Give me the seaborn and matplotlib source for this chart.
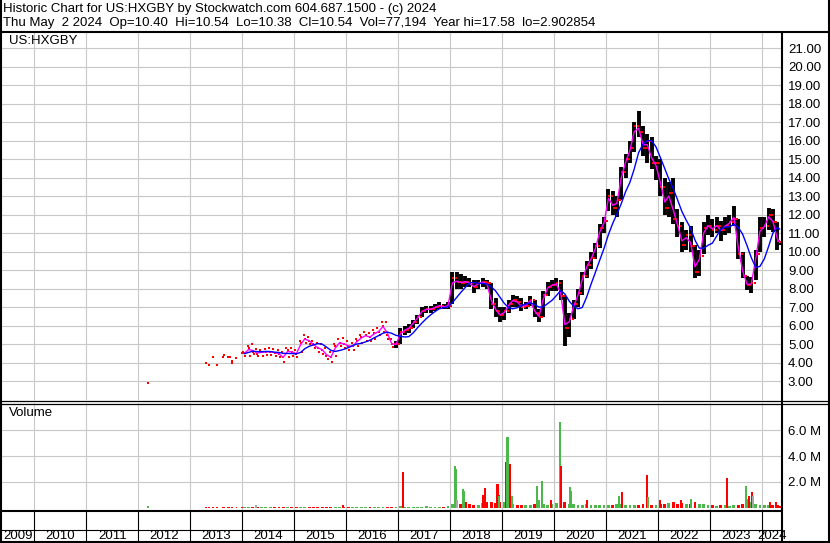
import matplotlib
matplotlib.use("Agg")
import matplotlib.pyplot as plt
from matplotlib.lines import Line2D
import numpy as np
import pandas as pd
import seaborn as sns

W, H = 830, 543

# ---- values ----
# sparse early trades (2012-2013)
dot_dates = ['2012-03-10', '2013-04-20', '2013-05-12', '2013-06-10', '2013-07-05', '2013-08-18',
             '2013-08-25', '2013-09-20', '2013-10-03', '2013-10-18', '2013-10-22', '2013-11-20',
             '2013-12-28']
dot_prices = [2.92, 4.02, 3.91, 4.34, 3.91, 4.35, 4.43, 4.30, 4.34, 4.10, 4.02, 4.29, 4.56]
dot_vols = [0.10, 0.04, 0.04, 0.04, 0.04, 0.04, 0.04, 0.04, 0.04, 0.04, 0.04, 0.04, 0.04]

# monthly high / low / close, 2014-01 .. 2024-05
month_hi = [4.6, 4.9, 5.0, 4.75, 4.7, 4.75, 4.8, 4.75, 4.7, 4.6, 4.8, 4.8,
            4.7, 5.2, 5.5, 5.4, 5.2, 5.1, 5.0, 4.8, 4.6, 5.0, 5.3, 5.35,
            5.2, 5.1, 5.3, 5.5, 5.7, 5.6, 5.8, 5.9, 6.2, 6.2, 5.3, 5.2,
            5.9, 6.0, 6.1, 6.3, 6.6, 7.0, 7.1, 7.1, 7.2, 7.3, 7.2, 7.3,
            8.9, 8.9, 8.8, 8.7, 8.6, 8.5, 8.5, 8.6, 8.5, 8.3, 7.5, 7.0,
            7.0, 7.4, 7.7, 7.6, 7.5, 7.3, 7.6, 7.4, 6.9, 7.9, 8.4, 8.5,
            8.6, 8.5, 7.6, 6.7, 7.4, 8.0, 8.9, 9.5, 10.0, 10.5, 11.5, 11.9,
            13.4, 13.3, 13.0, 14.6, 15.3, 16.0, 17.0, 17.6, 16.8, 16.4, 16.2, 15.2,
            15.0, 14.0, 13.8, 14.0, 12.3, 11.6, 11.2, 11.4, 10.4, 10.1, 11.6, 12.0,
            11.8, 11.9, 11.7, 11.9, 12.0, 12.5, 11.8, 10.0, 8.7, 8.65, 10.1, 11.9,
            11.9, 12.4, 12.3, 11.6, 10.54]
month_lo = [4.4, 4.4, 4.5, 4.4, 4.4, 4.45, 4.45, 4.4, 4.3, 4.05, 4.3, 4.4,
            4.3, 4.6, 5.1, 5.0, 4.8, 4.6, 4.5, 4.2, 4.05, 4.4, 4.9, 4.8,
            4.7, 4.7, 4.9, 5.1, 5.2, 5.2, 5.3, 5.5, 5.7, 5.3, 4.85, 4.8,
            5.0, 5.5, 5.6, 5.9, 6.1, 6.5, 6.7, 6.7, 6.8, 6.9, 6.9, 6.9,
            7.2, 8.0, 8.0, 8.1, 8.1, 7.8, 8.0, 8.1, 8.0, 6.9, 6.5, 6.2,
            6.3, 6.7, 7.0, 7.0, 6.8, 6.9, 7.1, 6.5, 6.2, 6.5, 7.6, 7.9,
            7.9, 7.4, 4.9, 5.4, 6.4, 7.0, 7.7, 8.6, 9.1, 9.6, 10.2, 11.0,
            12.2, 12.0, 11.9, 12.8, 14.0, 14.8, 15.4, 16.2, 15.2, 14.8, 14.5, 13.9,
            13.0, 12.0, 11.9, 11.5, 10.8, 10.0, 10.1, 10.0, 8.6, 8.7, 9.9, 10.9,
            10.8, 11.0, 10.6, 10.9, 11.0, 11.4, 9.6, 8.6, 7.95, 7.8, 8.5, 10.0,
            10.8, 11.2, 11.1, 10.1, 10.38]
month_cl = [4.55, 4.8, 4.6, 4.5, 4.6, 4.6, 4.6, 4.55, 4.5, 4.3, 4.7, 4.6,
            4.5, 5.1, 5.3, 5.2, 5.0, 4.8, 4.7, 4.4, 4.3, 4.9, 5.1, 5.0,
            4.9, 4.9, 5.2, 5.4, 5.5, 5.4, 5.6, 5.7, 6.0, 5.5, 5.0, 5.0,
            5.7, 5.8, 5.9, 6.2, 6.5, 6.8, 6.9, 6.9, 7.0, 7.1, 7.0, 7.1,
            8.6, 8.4, 8.3, 8.4, 8.3, 8.1, 8.3, 8.4, 8.3, 7.2, 6.8, 6.6,
            6.8, 7.2, 7.4, 7.3, 7.0, 7.1, 7.4, 6.7, 6.5, 7.7, 8.1, 8.2,
            8.3, 7.6, 5.9, 6.4, 7.2, 7.8, 8.7, 9.3, 9.7, 10.3, 11.3, 11.7,
            13.0, 12.4, 12.8, 14.3, 15.0, 15.6, 16.8, 16.5, 15.6, 16.0, 14.8, 14.8,
            13.5, 12.4, 13.2, 11.8, 11.4, 10.4, 10.9, 10.3, 8.9, 9.8, 11.3, 11.4,
            11.2, 11.4, 11.2, 11.4, 11.6, 11.8, 9.9, 8.7, 8.2, 8.3, 9.9, 11.3,
            11.4, 12.0, 11.6, 10.6, 10.54]
# typical daily volume per month (millions)
month_vol = [0.04, 0.05, 0.05, 0.05, 0.04, 0.05, 0.05, 0.05, 0.04, 0.05, 0.05, 0.05,
             0.05, 0.05, 0.04, 0.05, 0.05, 0.04, 0.05, 0.05, 0.05, 0.04, 0.05, 0.05,
             0.05, 0.05, 0.05, 0.04, 0.05, 0.05, 0.05, 0.05, 0.05, 0.05, 0.06, 0.05,
             0.10, 0.08, 0.07, 0.08, 0.07, 0.08, 0.09, 0.07, 0.08, 0.07, 0.08, 0.09,
             0.30, 0.25, 0.30, 0.20, 0.25, 0.18, 0.20, 0.35, 0.40, 0.45, 0.35, 0.40,
             0.40, 0.35, 0.25, 0.18, 0.20, 0.18, 0.20, 0.25, 0.40, 0.30, 0.20, 0.25,
             0.35, 0.40, 0.45, 0.30, 0.25, 0.20, 0.18, 0.25, 0.20, 0.18, 0.20, 0.18,
             0.20, 0.18, 0.25, 0.30, 0.20, 0.18, 0.20, 0.18, 0.25, 0.30, 0.20, 0.18,
             0.25, 0.30, 0.35, 0.40, 0.30, 0.35, 0.30, 0.25, 0.40, 0.30, 0.25, 0.20,
             0.18, 0.12, 0.18, 0.18, 0.12, 0.18, 0.20, 0.25, 0.40, 0.45, 0.30, 0.20,
             0.18, 0.20, 0.18, 0.20, 0.12]

# single-day volume spikes (millions)
spike_dates = ['2014-04-05', '2015-12-10', '2017-02-01', '2018-02-03', '2018-02-12', '2018-02-16',
               '2018-04-01', '2018-04-08', '2018-04-19', '2018-08-20', '2018-09-02', '2018-11-28',
               '2018-12-05', '2018-12-09', '2019-01-30', '2019-02-06', '2019-02-24', '2019-03-07',
               '2019-09-02', '2019-09-16', '2019-10-04', '2019-12-09', '2020-02-10', '2020-02-17',
               '2020-04-19', '2020-04-30', '2020-08-18', '2021-03-29', '2021-04-20', '2021-10-12',
               '2021-10-19', '2022-01-12', '2022-06-10', '2022-08-15', '2023-04-27', '2023-09-09',
               '2023-09-20', '2023-09-28', '2023-10-19', '2023-10-26', '2024-02-24', '2024-04-05']
spike_vols = [0.23, 0.23, 2.75, 3.2, 3.0, 0.6,
              1.45, 1.3, 0.45, 1.0, 1.55, 1.85,
              1.0, 0.9, 3.55, 5.45, 3.35, 0.9,
              1.7, 0.6, 2.05, 0.6, 6.65, 3.2,
              1.6, 1.3, 0.55, 0.9, 1.2, 2.55,
              0.8, 0.55, 0.6, 0.7, 2.3, 1.65,
              0.7, 0.9, 1.2, 0.9, 0.4, 0.45]
spike_colors = ['gray', 'red', 'red', 'green', 'green', 'gray',
                'green', 'green', 'red', 'red', 'red', 'red',
                'red', 'green', 'red', 'green', 'red', 'green',
                'green', 'green', 'green', 'red', 'green', 'red',
                'green', 'green', 'red', 'green', 'red', 'red',
                'green', 'red', 'red', 'green', 'red', 'green',
                'green', 'red', 'red', 'gray', 'red', 'red']

price_ticks = list(range(3, 22))
vol_ticks = [2, 4, 6]
years = list(range(2009, 2025))

header1 = "Historic Chart for US:HXGBY by Stockwatch.com 604.687.1500 - (c) 2024"
header2 = ("Thu May  2 2024  Op=10.40  Hi=10.54  Lo=10.38  Cl=10.54  "
           "Vol=77,194  Year hi=17.58  lo=2.902854")

# ---- styling ----
sns.set_theme(style="white")
plt.rcParams['font.family'] = ['Liberation Sans', 'DejaVu Sans']

RED, GREEN, GRAY = '#ff0000', '#4cb84c', '#a8a8a8'
GRID = '#c8c8c8'
col_map = {'red': RED, 'green': GREEN, 'gray': GRAY}

fig = plt.figure(figsize=(W / 100, H / 100), dpi=100)


def box(x0, y0, x1, y1):
    return [x0 / W, 1 - y1 / H, (x1 - x0) / W, (y1 - y0) / H]


def fline(xs, ys, lw):
    fig.add_artist(Line2D([x / W for x in xs], [1 - y / H for y in ys], color='black',
                          lw=lw, transform=fig.transFigure, solid_capstyle='butt'))


ax_p = fig.add_axes(box(1, 32, 781, 400))
ax_v = fig.add_axes(box(1, 403, 781, 510))
ax_y = fig.add_axes(box(1, 510, 781, 542))

x_left, x_right = pd.Timestamp('2009-05-12'), pd.Timestamp('2024-05-11')
year_starts = pd.to_datetime([f'{y}-01-01' for y in years[1:]])

for ax in (ax_p, ax_v, ax_y):
    ax.set_xlim(x_left, x_right)
    for s in ax.spines.values():
        s.set_visible(False)
    ax.set_xticks([])
    ax.patch.set_alpha(0)

for ax in (ax_p, ax_v):
    for d in year_starts:
        ax.axvline(d, color=GRID, lw=0.8, zorder=0)

# ---- price panel ----
periods = pd.period_range('2014-01', periods=len(month_cl), freq='M')
centers = list(periods.to_timestamp() + pd.Timedelta(days=14))
centers[-1] = pd.Timestamp('2024-05-02')
centers = pd.DatetimeIndex(centers)

df = pd.DataFrame({'date': centers, 'hi': month_hi, 'lo': month_lo, 'cl': month_cl,
                   'vol': month_vol})
df['op'] = df['cl'].shift(1).fillna(df['cl'])
df['mid'] = (df['hi'] + df['lo']) / 2
df['fast'] = (df['hi'] + df['lo'] + 2 * df['cl']) / 4
df['slow'] = df['mid'].rolling(5, min_periods=1).mean()

early = df[df['date'] < pd.Timestamp('2016-12-01')]
late = df[df['date'] >= pd.Timestamp('2016-12-01')]

ax_p.set_ylim(2.0, 21.89)
for v in price_ticks:
    ax_p.axhline(v, color=GRID, lw=0.8, zorder=0)

# early thin trading: scattered red prints
sq = dict(marker='s', s=4, color=RED, linewidth=0, ax=ax_p, zorder=3, legend=False)
sns.scatterplot(x=pd.to_datetime(dot_dates), y=dot_prices, **sq)
sns.scatterplot(x=early['date'] - pd.Timedelta(days=8), y=early['hi'], **sq)
sns.scatterplot(x=early['date'], y=early['cl'], **sq)
sns.scatterplot(x=early['date'] + pd.Timedelta(days=8), y=early['lo'], **sq)

# later: high-low bars with open/close ticks
ax_p.vlines(late['date'], late['lo'], late['hi'], color='black', lw=2.8, zorder=2)
sns.scatterplot(x=late['date'] - pd.Timedelta(days=7), y=late['op'], **sq)
sns.scatterplot(x=late['date'] + pd.Timedelta(days=7), y=late['cl'], **sq)

sns.lineplot(data=df, x='date', y='fast', color='#ff00ff', lw=1.0, ax=ax_p, zorder=4)
sns.lineplot(data=df, x='date', y='slow', color='#0000ff', lw=1.0, ax=ax_p, zorder=5)

ax_p.yaxis.tick_right()
ax_p.set_yticks(price_ticks)
ax_p.set_yticklabels([f'{v:.2f}' for v in price_ticks])
ax_p.tick_params(axis='y', length=0, pad=5, labelsize=9.5, labelcolor='black')
ax_p.set_xlabel('')
ax_p.set_ylabel('')
ax_p.text(8 / 780, 1 - 9 / 368, 'US:HXGBY', transform=ax_p.transAxes, ha='left',
          va='center', fontsize=9.5, color='black')

# ---- volume panel ----
ax_v.set_ylim(-0.19, 8.13)
for v in vol_ticks:
    ax_v.axhline(v, color=GRID, lw=0.8, zorder=0)
base_colors = [GREEN if c >= o else RED for c, o in zip(df['cl'], df['op'])]
ax_v.bar(df['date'], df['vol'], width=20, color=base_colors, lw=0, zorder=2)
ax_v.bar(pd.to_datetime(dot_dates), dot_vols, width=12,
         color=[GREEN] + [RED] * (len(dot_dates) - 1), lw=0, zorder=2)
ax_v.bar(pd.to_datetime(spike_dates), spike_vols, width=15,
         color=[col_map[c] for c in spike_colors], lw=0, zorder=3)
ax_v.yaxis.tick_right()
ax_v.set_yticks(vol_ticks)
ax_v.set_yticklabels([f'{v:.1f} M' for v in vol_ticks])
ax_v.tick_params(axis='y', length=0, pad=5, labelsize=9.5, labelcolor='black')
ax_v.text(8 / 780, 1 - 10 / 107, 'Volume', transform=ax_v.transAxes, ha='left',
          va='center', fontsize=9.5, color='black')

# ---- year strip ----
ax_y.set_ylim(0, 1)
ax_y.set_yticks([])
for d in year_starts:
    ax_y.axvline(d, color='black', lw=0.8)
for y in years:
    a = max(pd.Timestamp(f'{y}-01-01'), x_left)
    b = min(pd.Timestamp(f'{y + 1}-01-01'), x_right)
    ax_y.text(a + (b - a) / 2, 0.2, str(y), ha='center', va='center', fontsize=9.5,
              color='black', clip_on=False)

# ---- frame lines ----
fline([0, 830], [31.5, 31.5], 1.5)
fline([0, 830], [400.5, 400.5], 0.9)
fline([0, 830], [403.5, 403.5], 0.9)
fline([0, 781], [510.5, 510.5], 1.5)
fline([0, 781], [529.5, 529.5], 0.8)
fline([781.5, 781.5], [31, 543], 1.5)
fline([0.7, 0.7], [0, 543], 1.5)
fline([829.3, 829.3], [0, 543], 1.5)
fline([0, 830], [542.3, 542.3], 1.5)

fig.text(3 / W, 1 - 9 / H, header1, ha='left', va='center', fontsize=9.5, color='black')
fig.text(3 / W, 1 - 23 / H, header2, ha='left', va='center', fontsize=9.5, color='black')

fig.savefig('out.png', dpi=100)
